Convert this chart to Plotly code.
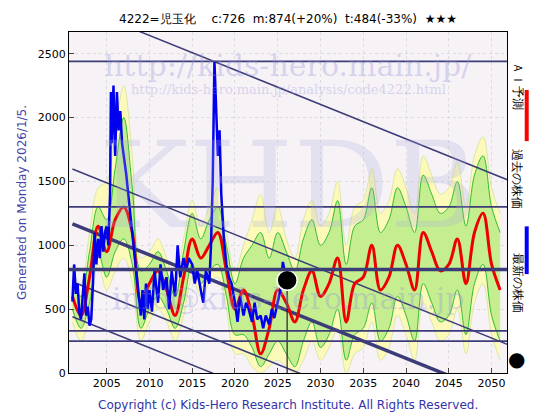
import plotly.graph_objects as go

# past price (blue)
past_year = [2001.0, 2001.2, 2001.4, 2001.6, 2001.8, 2002.0, 2002.2, 2002.4, 2002.6, 2002.8, 2003.0, 2003.2,
             2003.4, 2003.6, 2003.8, 2004.0, 2004.2, 2004.4, 2004.6, 2004.8, 2005.0, 2005.2, 2005.4, 2005.5,
             2005.6, 2005.8, 2006.0, 2006.2, 2006.4, 2006.6, 2006.8, 2007.0, 2007.3, 2007.6, 2008.0, 2008.3,
             2008.6, 2009.0, 2009.2, 2009.4, 2009.6, 2009.8, 2010.0, 2010.3, 2010.6, 2011.0, 2011.3, 2011.6,
             2012.0, 2012.3, 2012.6, 2013.0, 2013.3, 2013.6, 2014.0, 2014.3, 2014.6, 2015.0, 2015.3, 2015.6,
             2016.0, 2016.3, 2016.6, 2017.0, 2017.2, 2017.4, 2017.6, 2017.8, 2018.0, 2018.2, 2018.4, 2018.7,
             2019.0, 2019.3, 2019.6, 2020.0, 2020.3, 2020.6, 2021.0, 2021.3, 2021.6, 2022.0, 2022.3, 2022.6,
             2023.0, 2023.3, 2023.6, 2024.0, 2024.3, 2024.6, 2025.0, 2025.3, 2025.6, 2026.0]
past_price = [560, 850, 620, 700, 480, 420, 600, 780, 450, 520, 370, 420,
              700, 1100, 850, 1050, 900, 1150, 950, 1100, 1150, 1000, 1400, 2200,
              1800, 2250, 1700, 2200, 1900, 2050, 1800, 1700, 1550, 1350, 1100, 900,
              750, 450, 650, 420, 700, 500, 650, 480, 800, 550, 850, 650,
              750, 500, 800, 600, 1000, 750, 900, 800, 900, 850, 700, 800,
              650, 550, 800, 700, 1000, 1500, 2440, 2050, 1700, 1900, 1400, 1050,
              850, 750, 700, 550, 400, 600, 450, 550, 500, 400, 550, 420,
              450, 350, 450, 380, 500, 430, 550, 650, 870, 726]

# AI forecast (red)
ai_year = list(range(2001, 2052))
ai_price = [600, 450, 750, 1150, 950, 1200, 1300, 1100, 550, 700, 800, 650, 450, 750, 1050, 900, 1000,
            1100, 800, 500, 650, 450, 150, 350, 650, 550, 400, 650, 800, 600, 700, 900, 400, 700, 750,
            1000, 650, 750, 1000, 850, 650, 1100, 950, 800, 850, 1050, 700, 1100, 1250, 850, 650]

# forecast envelopes (yellow outer, green inner)
band_year = list(range(2001, 2052))
yellow_hi = [800, 700, 1100, 1450, 1500, 1900, 2250, 1700, 900, 950, 1050, 900, 700, 1050, 1350, 1150, 1300,
             1450, 1100, 800, 1000, 1200, 1400, 1100, 1300, 1050, 900, 1200, 1350, 1150, 1250, 1500, 1000, 1300, 1350,
             1600, 1250, 1350, 1600, 1450, 1250, 1700, 1550, 1400, 1450, 1650, 1300, 1700, 1850, 1450, 1250]
yellow_lo = [400, 250, 450, 850, 650, 800, 900, 700, 250, 400, 500, 400, 250, 450, 750, 600, 700,
             750, 500, 150, 150, 50, 0, 50, 100, 50, 0, 100, 250, 100, 200, 350, 0, 150, 200,
             400, 100, 200, 450, 300, 100, 550, 400, 250, 300, 500, 150, 550, 700, 300, 100]
green_hi = [700, 600, 950, 1300, 1200, 1600, 2000, 1450, 800, 850, 950, 800, 600, 950, 1250, 1050, 1200,
            1300, 1000, 700, 900, 1000, 1100, 900, 1100, 950, 800, 1050, 1200, 1000, 1100, 1350, 850, 1150, 1200,
            1450, 1100, 1200, 1450, 1300, 1100, 1550, 1400, 1250, 1300, 1500, 1150, 1550, 1700, 1300, 1100]
green_lo = [500, 350, 550, 950, 750, 950, 1050, 850, 350, 500, 600, 500, 350, 550, 850, 700, 800,
            850, 600, 300, 300, 200, 50, 150, 250, 150, 50, 250, 400, 200, 300, 500, 100, 300, 350,
            550, 250, 350, 600, 450, 250, 700, 550, 400, 450, 650, 300, 700, 850, 450, 250]

latest_year = [2026.1]
latest_price = [726]

h_levels = [2440, 1300, 810, 330, 250]
h_widths = [1.8, 1.8, 3.5, 1.8, 1.8]
diag_start = [2886, 1597, 1168, 715, 441]  # value at 2001, slope -27 / yr
diag_widths = [1.5, 1.5, 3.5, 1.5, 1.5]
diag_slope = -27

fig = go.Figure()

fig.add_trace(go.Scatter(x=band_year, y=yellow_hi, mode="lines", line=dict(color="#cfe3a0", width=0.8, shape="spline"),
                         hoverinfo="skip"))
fig.add_trace(go.Scatter(x=band_year, y=yellow_lo, mode="lines", fill="tonexty", fillcolor="rgba(255,250,170,0.8)",
                         line=dict(color="#cfe3a0", width=0.8, shape="spline"), hoverinfo="skip"))
fig.add_trace(go.Scatter(x=band_year, y=green_hi, mode="lines", line=dict(color="#33bb33", width=1, shape="spline"),
                         hoverinfo="skip"))
fig.add_trace(go.Scatter(x=band_year, y=green_lo, mode="lines", fill="tonexty", fillcolor="rgba(150,230,110,0.55)",
                         line=dict(color="#33bb33", width=1, shape="spline"), hoverinfo="skip"))

for lv, w in zip(h_levels, h_widths):
    fig.add_hline(y=lv, line=dict(color="#3c3c78", width=w))
for v0, w in zip(diag_start, diag_widths):
    fig.add_trace(go.Scatter(x=[2001, 2052], y=[v0, v0 + diag_slope * 51], mode="lines",
                             line=dict(color="#3c3c78", width=w), hoverinfo="skip"))

fig.add_trace(go.Scatter(x=ai_year, y=ai_price, mode="lines", line=dict(color="#ee0000", width=3, shape="spline")))
fig.add_trace(go.Scatter(x=past_year, y=past_price, mode="lines", line=dict(color="#0000ee", width=2.5)))
fig.add_trace(go.Scatter(x=[latest_year[0], latest_year[0]], y=[0, latest_price[0]], mode="lines",
                         line=dict(color="#222222", width=1.2)))
fig.add_trace(go.Scatter(x=latest_year, y=latest_price, mode="markers",
                         marker=dict(color="black", size=20, line=dict(color="white", width=1.5))))

wm = "rgba(150,150,220,0.35)"
fig.add_annotation(x=0.5, y=0.96, xref="paper", yref="paper", text="http://kids-hero.main.jp/", showarrow=False,
                   font=dict(family="DejaVu Serif", size=30, color=wm))
fig.add_annotation(x=0.5, y=0.86, xref="paper", yref="paper", text="http://kids-hero.main.jp/analysis/code4222.html",
                   showarrow=False, font=dict(family="DejaVu Serif", size=13, color=wm))
fig.add_annotation(x=0.5, y=0.55, xref="paper", yref="paper", text="KHDB", showarrow=False,
                   font=dict(family="DejaVu Serif", size=120, color="rgba(170,170,220,0.25)"))
fig.add_annotation(x=0.5, y=0.16, xref="paper", yref="paper", text="info@kids-hero.main.jp", showarrow=False,
                   font=dict(family="DejaVu Serif", size=30, color=wm))

# right-side legend
lx = 1.045
fig.add_annotation(x=lx, y=0.92, xref="paper", yref="paper", text="ＡＩ予測", textangle=90, showarrow=False,
                   font=dict(size=12, color="black"))
fig.add_shape(type="line", xref="paper", yref="paper", x0=lx, x1=lx, y0=0.68, y1=0.83,
              line=dict(color="red", width=4))
fig.add_annotation(x=lx, y=0.57, xref="paper", yref="paper", text="過去の株価", textangle=90, showarrow=False,
                   font=dict(size=12, color="black"))
fig.add_shape(type="line", xref="paper", yref="paper", x0=lx, x1=lx, y0=0.29, y1=0.43,
              line=dict(color="blue", width=4))
fig.add_annotation(x=lx, y=0.17, xref="paper", yref="paper", text="最新の株価", textangle=90, showarrow=False,
                   font=dict(size=12, color="black"))
fig.add_annotation(x=lx, y=0.0, xref="paper", yref="paper", text="●", showarrow=False,
                   font=dict(size=20, color="black"))

fig.add_annotation(x=0.5, y=-0.12, xref="paper", yref="paper",
                   text="Copyright (c) Kids-Hero Research Institute. All Rights Reserved.", showarrow=False,
                   font=dict(size=12, color="#3333aa"))

fig.update_layout(
    width=560, height=420, showlegend=False,
    margin=dict(l=61, r=61, t=24, b=55),
    paper_bgcolor="white", plot_bgcolor="#f6f2f6",
    font=dict(family="DejaVu Sans", size=11, color="black"),
    title=dict(text="4222=児玉化　 c:726  m:874(+20%)  t:484(-33%)  ★★★", x=0.5, y=0.985,
               font=dict(size=12)),
    xaxis=dict(range=[2000.6, 2051.8], tickvals=list(range(2005, 2051, 5)), showgrid=True,
               gridcolor="#dddddd", griddash="dot", mirror=True, showline=True, linecolor="black", ticks="inside",
               zeroline=False),
    yaxis=dict(range=[0, 2670], tickvals=[0, 500, 1000, 1500, 2000, 2500], showgrid=True, gridcolor="#dddddd",
               griddash="dot", mirror=True, showline=True, linecolor="black", ticks="inside", zeroline=False,
               title=dict(text="Generated on Monday 2026/1/5.", font=dict(size=12, color="#4444aa"), standoff=8)),
)

fig.write_html("out.html")
